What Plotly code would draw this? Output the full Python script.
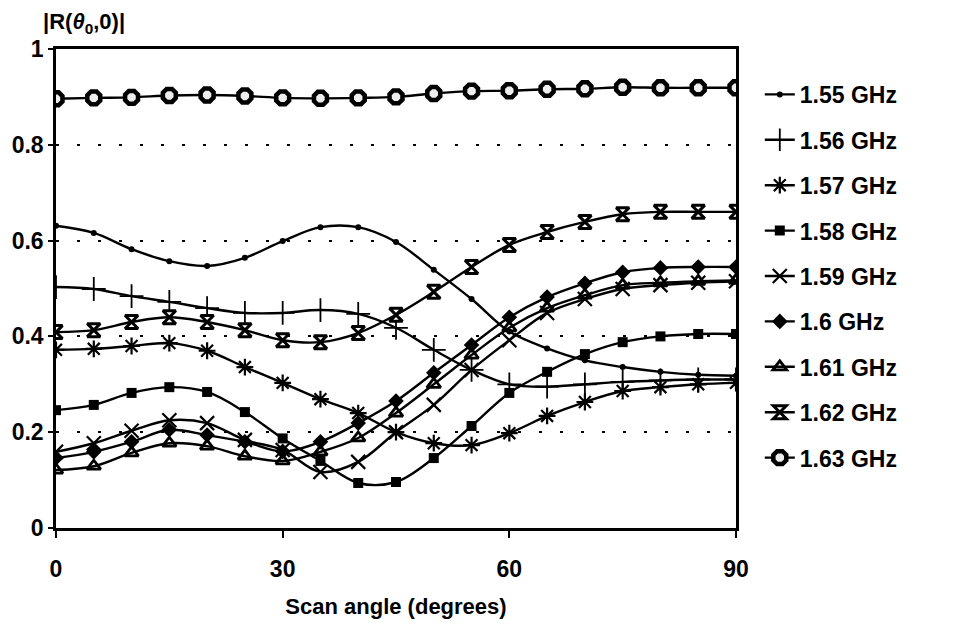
import plotly.graph_objects as go

angles = [0, 5, 10, 15, 20, 25, 30, 35, 40, 45, 50, 55, 60, 65, 70, 75, 80, 85, 90]

f155 = [0.631, 0.616, 0.582, 0.557, 0.547, 0.564, 0.599, 0.628, 0.628, 0.597, 0.539, 0.478, 0.410, 0.375, 0.350, 0.336, 0.326, 0.320, 0.318]
f156 = [0.503, 0.499, 0.484, 0.472, 0.459, 0.449, 0.449, 0.455, 0.447, 0.418, 0.372, 0.330, 0.300, 0.295, 0.300, 0.305, 0.308, 0.310, 0.310]
f157 = [0.372, 0.374, 0.380, 0.386, 0.370, 0.336, 0.303, 0.269, 0.240, 0.200, 0.177, 0.173, 0.198, 0.234, 0.263, 0.286, 0.294, 0.300, 0.303]
f158 = [0.246, 0.257, 0.282, 0.294, 0.284, 0.242, 0.187, 0.140, 0.094, 0.096, 0.146, 0.213, 0.282, 0.326, 0.363, 0.388, 0.400, 0.405, 0.405]
f159 = [0.159, 0.177, 0.203, 0.225, 0.219, 0.184, 0.163, 0.117, 0.138, 0.200, 0.257, 0.330, 0.392, 0.449, 0.478, 0.499, 0.507, 0.512, 0.515]
f160 = [0.146, 0.159, 0.180, 0.205, 0.194, 0.180, 0.160, 0.180, 0.219, 0.265, 0.324, 0.382, 0.440, 0.482, 0.511, 0.534, 0.543, 0.545, 0.545]
f161 = [0.121, 0.129, 0.157, 0.177, 0.171, 0.150, 0.140, 0.159, 0.188, 0.240, 0.300, 0.361, 0.418, 0.459, 0.486, 0.507, 0.512, 0.515, 0.517]
f162 = [0.409, 0.413, 0.430, 0.440, 0.430, 0.413, 0.392, 0.388, 0.407, 0.445, 0.493, 0.545, 0.591, 0.618, 0.639, 0.655, 0.660, 0.660, 0.660]
f163 = [0.896, 0.898, 0.899, 0.903, 0.904, 0.902, 0.898, 0.897, 0.898, 0.900, 0.907, 0.912, 0.913, 0.916, 0.917, 0.920, 0.919, 0.919, 0.919]

names = ["1.55 GHz", "1.56 GHz", "1.57 GHz", "1.58 GHz", "1.59 GHz",
         "1.6 GHz", "1.61 GHz", "1.62 GHz", "1.63 GHz"]
series = [f155, f156, f157, f158, f159, f160, f161, f162, f163]

styles = [
    dict(symbol="circle", size=6, color="black", line=dict(width=0)),
    dict(symbol="cross-thin", size=17, color="black", line=dict(width=1.8, color="black")),
    dict(symbol="asterisk-open", size=14, color="black", line=dict(width=2.2, color="black")),
    dict(symbol="square", size=10, color="black", line=dict(width=0)),
    dict(symbol="x-thin-open", size=14, color="black", line=dict(width=2.2, color="black")),
    dict(symbol="diamond", size=12, color="black", line=dict(width=0)),
    dict(symbol="triangle-up-open", size=12, color="black", line=dict(width=2.8, color="black")),
    dict(symbol="hourglass", size=13, color="white", line=dict(width=3, color="black")),
    dict(symbol="octagon", size=14, color="#eeeeee", line=dict(width=4.5, color="black")),
]

fig = go.Figure()
for i, (nm, ys, mk) in enumerate(zip(names, series, styles)):
    fig.add_trace(go.Scatter(
        x=angles, y=ys, name=nm, mode="lines+markers",
        line=dict(color="black", width=2.4, shape="spline", smoothing=1.0),
        marker=mk, legendgroup=f"g{i}",
    ))

font_main = "Liberation Sans, Arial, sans-serif"

fig.update_layout(
    width=966, height=629,
    margin=dict(l=53, r=230, t=49, b=101),
    paper_bgcolor="white", plot_bgcolor="white",
    font=dict(family=font_main, size=22, color="black"),
    showlegend=True,
    legend=dict(x=1.035, xanchor="left", y=0.95, yanchor="top",
                font=dict(family=font_main, size=23, color="black", weight="bold"),
                tracegroupgap=12.5, bgcolor="rgba(0,0,0,0)", itemwidth=30),
    xaxis=dict(range=[0, 90], tickvals=[0, 30, 60, 90], ticktext=["0", "30", "60", "90"],
               showline=True, linecolor="black", linewidth=2.5, mirror=True,
               ticks="outside", ticklen=7, tickwidth=1.5, tickcolor="black",
               showgrid=False, zeroline=False,
               tickfont=dict(family=font_main, size=23, weight="bold"),
               ticklabelstandoff=12,
               title=dict(text="Scan angle (degrees)", standoff=18,
                          font=dict(family=font_main, size=22, weight="bold"))),
    yaxis=dict(range=[0, 1], tickvals=[0, 0.2, 0.4, 0.6, 0.8, 1],
               ticktext=["0", "0.2", "0.4", "0.6", "0.8", "1"],
               showline=True, linecolor="black", linewidth=2.5, mirror=True,
               ticks="outside", ticklen=5, tickwidth=1.5, tickcolor="black",
               showgrid=True, gridcolor="black", gridwidth=1.5, griddash="3px,18px",
               zeroline=False,
               tickfont=dict(family=font_main, size=23, weight="bold")),
    annotations=[dict(text="|R(<i>θ</i><sub>0</sub>,0)|", xref="paper", yref="paper",
                      x=-0.022, y=1.0, xanchor="left", yanchor="bottom", yshift=10,
                      showarrow=False,
                      font=dict(family=font_main, size=22, color="black", weight="bold"))],
)

fig.write_html("out.html")
